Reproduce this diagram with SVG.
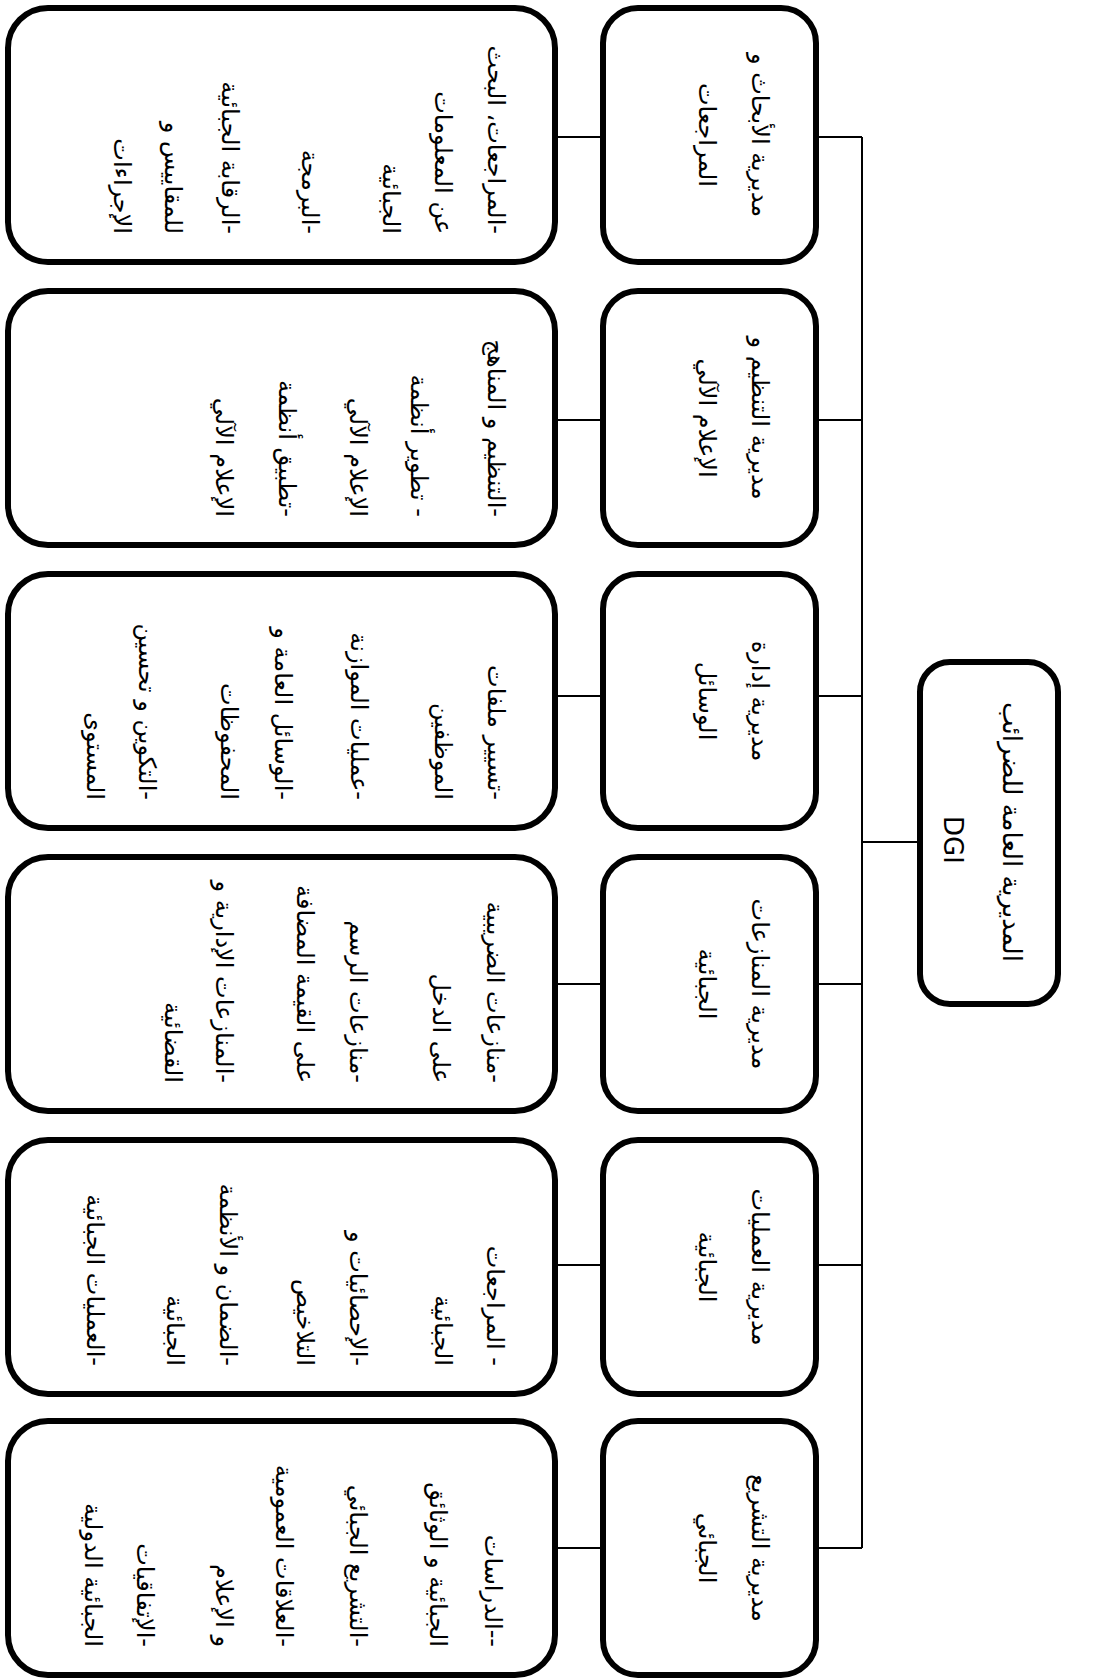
<svg xmlns="http://www.w3.org/2000/svg" width="1094" height="1679" viewBox="0 0 1094 1679">
<style>
.box{fill:#fff;stroke:#000;stroke-width:6}
.con{fill:none;stroke:#000;stroke-width:2}
text{font-family:"DejaVu Sans",sans-serif;fill:#000;dominant-baseline:central}
.d{font-size:24px;direction:rtl;text-anchor:start}
.m{font-size:24px;text-anchor:middle;direction:rtl}
.g{font-size:26px;text-anchor:middle}
</style>
<rect width="1094" height="1679" fill="#fff"/>
<g id="connectors">
<line class="con" x1="862" y1="137" x2="862" y2="1548"/>
<line class="con" x1="862" y1="842" x2="920" y2="842"/>
<line class="con" x1="816" y1="137" x2="862" y2="137"/>
<line class="con" x1="816" y1="420" x2="862" y2="420"/>
<line class="con" x1="816" y1="696" x2="862" y2="696"/>
<line class="con" x1="816" y1="984" x2="862" y2="984"/>
<line class="con" x1="816" y1="1265" x2="862" y2="1265"/>
<line class="con" x1="816" y1="1548" x2="862" y2="1548"/>
<line class="con" x1="555" y1="137" x2="603" y2="137"/>
<line class="con" x1="555" y1="420" x2="603" y2="420"/>
<line class="con" x1="555" y1="696" x2="603" y2="696"/>
<line class="con" x1="555" y1="984" x2="603" y2="984"/>
<line class="con" x1="555" y1="1265" x2="603" y2="1265"/>
<line class="con" x1="555" y1="1548" x2="603" y2="1548"/>
</g>
<g id="dgi">
<rect class="box" x="920" y="662" width="138" height="342" rx="30"/>
<text class="g" transform="translate(1012,832) rotate(90)" direction="rtl">المديرية العامة للضرائب</text>
<text class="g" transform="translate(953,840) rotate(90)">DGI</text>
</g>
<g id="dir1">
<rect class="box" x="603" y="8" width="213" height="254" rx="35"/>
<text class="m" transform="translate(760,135) rotate(90)">مديرية الأبحاث و</text>
<text class="m" transform="translate(707,135) rotate(90)">المراجعات</text>
</g>
<g id="dir2">
<rect class="box" x="603" y="291" width="213" height="254" rx="35"/>
<text class="m" transform="translate(760,418) rotate(90)">مديرية التنظيم و</text>
<text class="m" transform="translate(707,418) rotate(90)">الإعلام الآلي</text>
</g>
<g id="dir3">
<rect class="box" x="603" y="574" width="213" height="254" rx="35"/>
<text class="m" transform="translate(760,701) rotate(90)">مديرية إدارة</text>
<text class="m" transform="translate(707,701) rotate(90)">الوسائل</text>
</g>
<g id="dir4">
<rect class="box" x="603" y="857" width="213" height="254" rx="35"/>
<text class="m" transform="translate(760,984) rotate(90)">مديرية المنازعات</text>
<text class="m" transform="translate(707,984) rotate(90)">الجبائية</text>
</g>
<g id="dir5">
<rect class="box" x="603" y="1140" width="213" height="254" rx="35"/>
<text class="m" transform="translate(760,1267) rotate(90)">مديرية العمليات</text>
<text class="m" transform="translate(707,1267) rotate(90)">الجبائية</text>
</g>
<g id="dir6">
<rect class="box" x="603" y="1421" width="213" height="254" rx="35"/>
<text class="m" transform="translate(760,1548) rotate(90)">مديرية التشريع</text>
<text class="m" transform="translate(707,1548) rotate(90)">الجبائي</text>
</g>
<g id="det1">
<rect class="box" x="8" y="8" width="547" height="254" rx="40"/>
<text class="d" transform="translate(496,234) rotate(90)">-المراجعات، البحث</text>
<text class="d" transform="translate(443,234) rotate(90)">عن المعلومات</text>
<text class="d" transform="translate(391,234) rotate(90)">الجبائية</text>
<text class="d" transform="translate(310,234) rotate(90)">-البرمجة</text>
<text class="d" transform="translate(230,234) rotate(90)">-الرقابة الجبائية</text>
<text class="d" transform="translate(173,234) rotate(90)">للمقاييس و</text>
<text class="d" transform="translate(122,234) rotate(90)">الإجراءات</text>
</g>
<g id="det2">
<rect class="box" x="8" y="291" width="547" height="254" rx="40"/>
<text class="d" transform="translate(496,517) rotate(90)">-التنظيم و المناهج</text>
<text class="d" transform="translate(419,517) rotate(90)">- تطوير أنظمة</text>
<text class="d" transform="translate(358,517) rotate(90)">الإعلام الآلي</text>
<text class="d" transform="translate(287,517) rotate(90)">-تطبيق أنظمة</text>
<text class="d" transform="translate(224,517) rotate(90)">الإعلام الآلي</text>
</g>
<g id="det3">
<rect class="box" x="8" y="574" width="547" height="254" rx="40"/>
<text class="d" transform="translate(496,800) rotate(90)">-تسيير ملفات</text>
<text class="d" transform="translate(443,800) rotate(90)">الموظفين</text>
<text class="d" transform="translate(359,800) rotate(90)">-عمليات الموازنة</text>
<text class="d" transform="translate(283,800) rotate(90)">-الوسائل العامة و</text>
<text class="d" transform="translate(229,800) rotate(90)">المحفوظات</text>
<text class="d" transform="translate(147,800) rotate(90)">-التكوين و تحسين</text>
<text class="d" transform="translate(95,800) rotate(90)">المستوى</text>
</g>
<g id="det4">
<rect class="box" x="8" y="857" width="547" height="254" rx="40"/>
<text class="d" transform="translate(495,1083) rotate(90)">-منازعات الضريبية</text>
<text class="d" transform="translate(441,1083) rotate(90)">على الدخل</text>
<text class="d" transform="translate(358,1083) rotate(90)">-منازعات الرسم</text>
<text class="d" transform="translate(305,1083) rotate(90)">على القيمة المضافة</text>
<text class="d" transform="translate(224,1083) rotate(90)">-المنازعات الإدارية و</text>
<text class="d" transform="translate(173,1083) rotate(90)">القضائية</text>
</g>
<g id="det5">
<rect class="box" x="8" y="1140" width="547" height="254" rx="40"/>
<text class="d" transform="translate(495,1366) rotate(90)">- المراجعات</text>
<text class="d" transform="translate(443,1366) rotate(90)">الجبائية</text>
<text class="d" transform="translate(358,1366) rotate(90)">-الإحصائيات و</text>
<text class="d" transform="translate(305,1366) rotate(90)">التلاخيص</text>
<text class="d" transform="translate(228,1366) rotate(90)">-الضمان و الأنظمة</text>
<text class="d" transform="translate(175,1366) rotate(90)">الجبائية</text>
<text class="d" transform="translate(95,1366) rotate(90)">-العمليات الجبائية</text>
</g>
<g id="det6">
<rect class="box" x="8" y="1421" width="547" height="254" rx="40"/>
<text class="d" transform="translate(493,1647) rotate(90)">--الدراسات</text>
<text class="d" transform="translate(438,1647) rotate(90)">الجبائية و الوثائق</text>
<text class="d" transform="translate(358,1647) rotate(90)">-التشريع الجبائي</text>
<text class="d" transform="translate(284,1647) rotate(90)">-العلاقات العمومية</text>
<text class="d" transform="translate(224,1647) rotate(90)">و الإعلام</text>
<text class="d" transform="translate(145,1647) rotate(90)">-الإتفاقيات</text>
<text class="d" transform="translate(93,1647) rotate(90)">الجبائية الدولية</text>
</g>
</svg>
